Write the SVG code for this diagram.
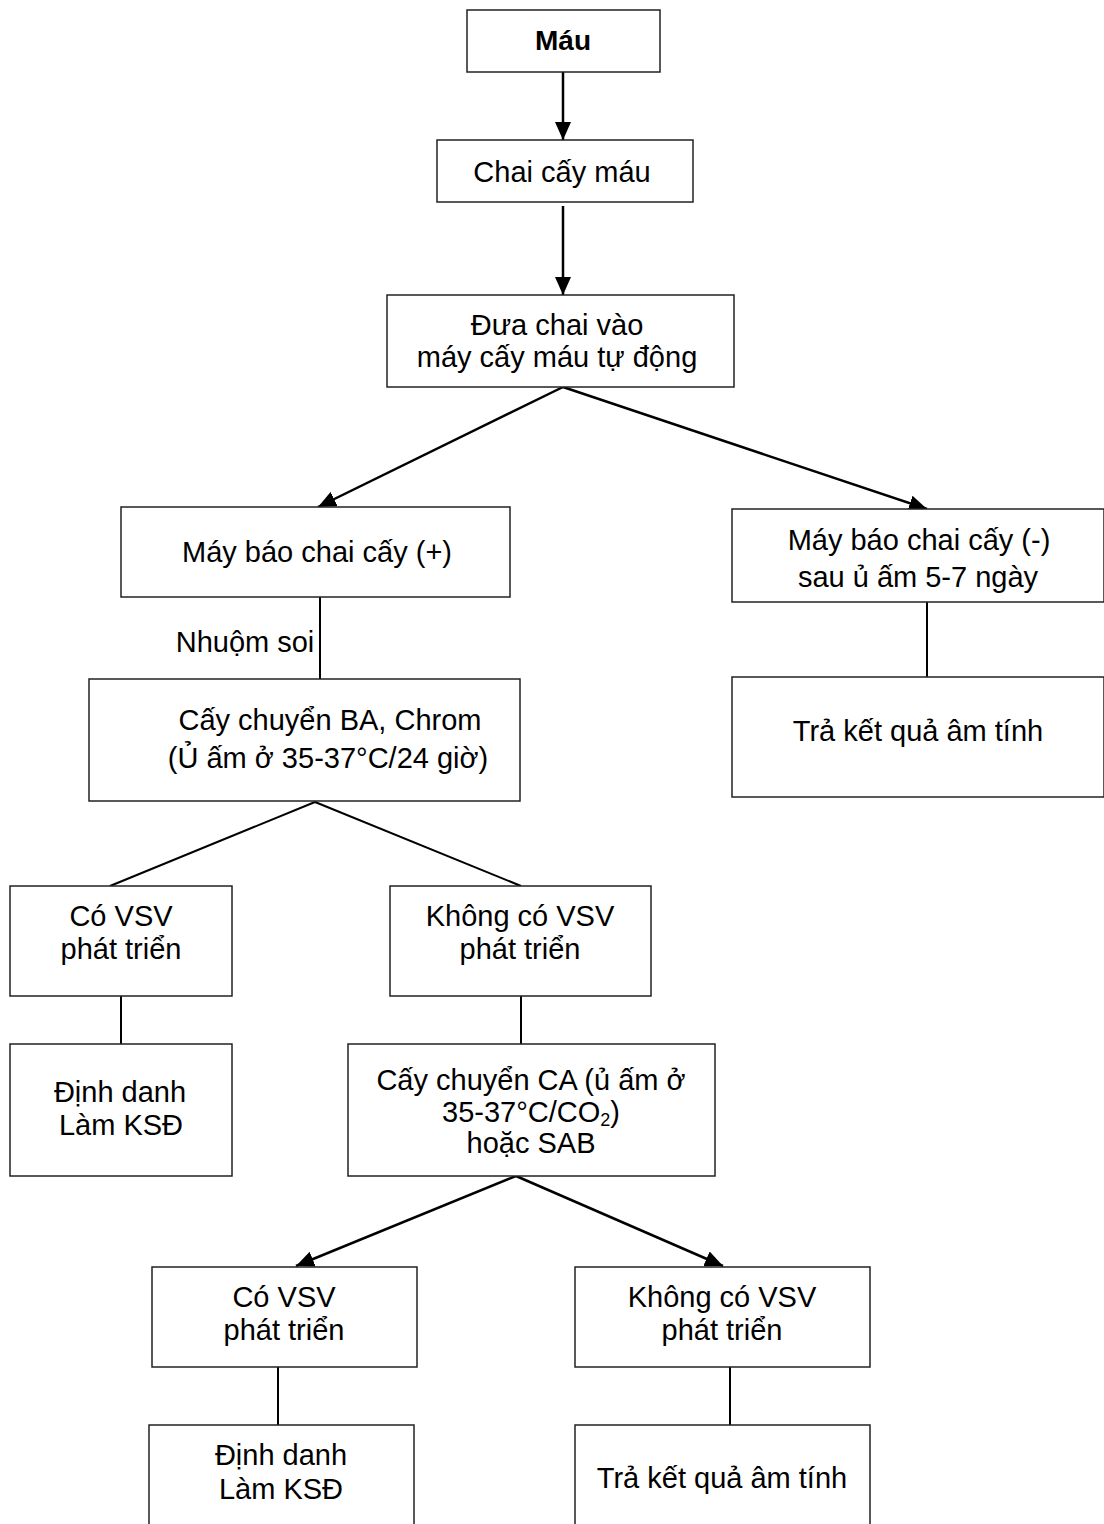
<svg xmlns="http://www.w3.org/2000/svg" width="1104" height="1524" viewBox="0 0 1104 1524">
<style>
.box{fill:#fff;stroke:#222;stroke-width:1.5}
.t{font-family:"Liberation Sans",Arial,sans-serif;font-size:29px;fill:#000;text-anchor:middle}
.b{font-weight:bold;font-size:28px}
.arr{stroke:#000;stroke-width:2.5;fill:none;marker-end:url(#ah)}
.ln{stroke:#000;stroke-width:2;fill:none}
</style>
<defs>
<marker id="ah" markerUnits="userSpaceOnUse" markerWidth="19" markerHeight="16" refX="18" refY="8" orient="auto">
<path d="M0,0 L18,8 L0,16 z" fill="#000"/>
</marker>
</defs>
<rect width="1104" height="1524" fill="#fff"/>
<g id="connectors">
<line class="arr" x1="563" y1="72" x2="563" y2="140"/>
<line class="arr" x1="563" y1="206" x2="563" y2="295"/>
<line class="arr" x1="563" y1="387" x2="318" y2="507"/>
<line class="arr" x1="563" y1="387" x2="927" y2="509"/>
<line class="ln" x1="320" y1="597" x2="320" y2="679"/>
<line class="ln" x1="927" y1="602" x2="927" y2="680"/>
<line class="ln" x1="315" y1="802" x2="110" y2="886"/>
<line class="ln" x1="315" y1="802" x2="521" y2="886"/>
<line class="ln" x1="121" y1="996" x2="121" y2="1044"/>
<line class="ln" x1="521" y1="996" x2="521" y2="1044"/>
<line class="arr" x1="516" y1="1176" x2="296" y2="1266"/>
<line class="arr" x1="516" y1="1176" x2="723" y2="1266"/>
<line class="ln" x1="278" y1="1367" x2="278" y2="1425"/>
<line class="ln" x1="730" y1="1367" x2="730" y2="1425"/>
</g>
<g id="n-mau"><rect class="box" x="467" y="10" width="193" height="62"/><text class="t b" x="563" y="50">Máu</text></g>
<g id="n-chai"><rect class="box" x="437" y="140" width="256" height="62"/><text class="t" x="562" y="182">Chai cấy máu</text></g>
<g id="n-dua"><rect class="box" x="387" y="295" width="347" height="92"/><text class="t" x="557" y="335">Đưa chai vào</text><text class="t" x="557" y="367">máy cấy máu tự động</text></g>
<g id="n-pos"><rect class="box" x="121" y="507" width="389" height="90"/><text class="t" x="317" y="562">Máy báo chai cấy (+)</text></g>
<g id="n-neg"><rect class="box" x="732" y="509" width="372" height="93"/><text class="t" x="919" y="550">Máy báo chai cấy (-)</text><text class="t" x="918" y="587">sau ủ ấm 5-7 ngày</text></g>
<g id="n-nhuom"><text class="t" x="245" y="652">Nhuộm soi</text></g>
<g id="n-neg-result"><rect class="box" x="732" y="677" width="372" height="120"/><text class="t" x="918" y="741">Trả kết quả âm tính</text></g>
<g id="n-ba"><rect class="box" x="89" y="679" width="431" height="122"/><text class="t" x="330" y="730">Cấy chuyển BA, Chrom</text><text class="t" x="328" y="768">(Ủ ấm ở 35-37°C/24 giờ)</text></g>
<g id="n-co1"><rect class="box" x="10" y="886" width="222" height="110"/><text class="t" x="121" y="926">Có VSV</text><text class="t" x="121" y="959">phát triển</text></g>
<g id="n-khong1"><rect class="box" x="390" y="886" width="261" height="110"/><text class="t" x="520" y="926">Không có VSV</text><text class="t" x="520" y="959">phát triển</text></g>
<g id="n-dinh1"><rect class="box" x="10" y="1044" width="222" height="132"/><text class="t" x="120" y="1102">Định danh</text><text class="t" x="121" y="1135">Làm KSĐ</text></g>
<g id="n-ca"><rect class="box" x="348" y="1044" width="367" height="132"/><text class="t" x="531" y="1090">Cấy chuyển CA (ủ ấm ở</text><text class="t" x="531" y="1122">35-37°C/CO<tspan font-size="18" dy="4">2</tspan><tspan dy="-4">)</tspan></text><text class="t" x="531" y="1153">hoặc SAB</text></g>
<g id="n-co2"><rect class="box" x="152" y="1267" width="265" height="100"/><text class="t" x="284" y="1307">Có VSV</text><text class="t" x="284" y="1340">phát triển</text></g>
<g id="n-khong2"><rect class="box" x="575" y="1267" width="295" height="100"/><text class="t" x="722" y="1307">Không có VSV</text><text class="t" x="722" y="1340">phát triển</text></g>
<g id="n-dinh2"><rect class="box" x="149" y="1425" width="265" height="110"/><text class="t" x="281" y="1465">Định danh</text><text class="t" x="281" y="1499">Làm KSĐ</text></g>
<g id="n-tra2"><rect class="box" x="575" y="1425" width="295" height="110"/><text class="t" x="722" y="1488">Trả kết quả âm tính</text></g>
</svg>
